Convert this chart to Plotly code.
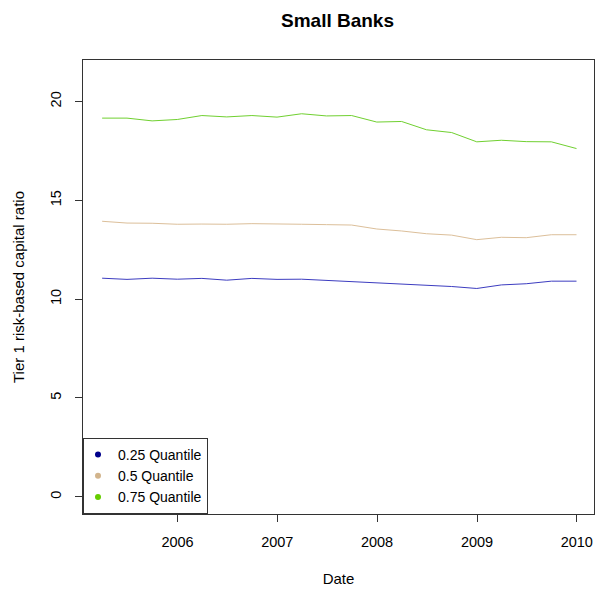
import plotly.graph_objects as go

dates = ["2005-03-31", "2005-06-30", "2005-09-30", "2005-12-31",
         "2006-03-31", "2006-06-30", "2006-09-30", "2006-12-31",
         "2007-03-31", "2007-06-30", "2007-09-30", "2007-12-31",
         "2008-03-31", "2008-06-30", "2008-09-30", "2008-12-31",
         "2009-03-31", "2009-06-30", "2009-09-30", "2009-12-31"]

q25 = [11.06, 11.00, 11.06, 11.01, 11.05, 10.96, 11.05, 11.00, 11.01, 10.95,
       10.88, 10.81, 10.76, 10.67, 10.64, 10.54, 10.72, 10.78, 10.91, 10.91]
q50 = [13.94, 13.85, 13.84, 13.79, 13.80, 13.79, 13.82, 13.79, 13.79, 13.77,
       13.75, 13.55, 13.45, 13.31, 13.24, 13.01, 13.13, 13.11, 13.26, 13.26]
q75 = [19.16, 19.16, 19.02, 19.09, 19.29, 19.22, 19.29, 19.21, 19.38, 19.27,
       19.29, 18.96, 18.99, 18.57, 18.43, 17.96, 18.04, 17.97, 17.96, 17.62]

names = ["0.25 Quantile", "0.5 Quantile", "0.75 Quantile"]
line_colors = ["#3c3cc0", "#dcbf9a", "#70d030"]
dot_colors = ["#00008B", "#D2B48C", "#66CD00"]
xticks = ["2006-01-01", "2007-01-01", "2008-01-01", "2009-01-01", "2010-01-01"]
xticklabels = ["2006", "2007", "2008", "2009", "2010"]
yticks = [0, 5, 10, 15, 20]

FONT = "Liberation Sans, Arial, sans-serif"

fig = go.Figure()
for series, name, lc in zip([q25, q50, q75], names, line_colors):
    fig.add_trace(go.Scatter(x=dates, y=series, mode="lines", name=name,
                             line=dict(color=lc, width=1), showlegend=False,
                             hoverinfo="skip"))
for name, dc in zip(names, dot_colors):
    fig.add_trace(go.Scatter(x=[None], y=[None], mode="markers", name=name,
                             marker=dict(color=dc, size=6), showlegend=True))

fig.update_layout(
    width=602, height=589,
    margin=dict(l=83, r=8, t=60, b=75),
    paper_bgcolor="white", plot_bgcolor="white",
    font=dict(family=FONT, size=15, color="black"),
    title=dict(text="<b>Small Banks</b>", x=337.5/602, xanchor="center",
               y=1 - 20/589, yanchor="middle", font=dict(size=19, family=FONT)),
    showlegend=True,
    legend=dict(x=0, y=0, xanchor="left", yanchor="bottom",
                bordercolor="#333333", borderwidth=1, bgcolor="white",
                font=dict(size=14, family=FONT),
                tracegroupgap=0, itemwidth=30, indentation=-6),
    xaxis=dict(type="date", range=["2005-01-20", "2010-03-05"],
               tickvals=xticks, ticktext=xticklabels,
               showgrid=False, zeroline=False, automargin=False,
               showline=True, linecolor="#333333", linewidth=1, mirror=True,
               ticks="outside", ticklen=7, tickcolor="#333333",
               ticklabelstandoff=8,
               tickfont=dict(size=14.5), title=dict(text="Date", standoff=24,
                                                    font=dict(size=15))),
    yaxis=dict(range=[-0.87, 22.1], tickvals=yticks, ticktext=[str(v) for v in yticks],
               tickangle=-90,
               showgrid=False, zeroline=False, automargin=False,
               showline=True, linecolor="#333333", linewidth=1, mirror=True,
               ticks="outside", ticklen=7, tickcolor="#333333",
               ticklabelstandoff=8,
               tickfont=dict(size=14.5),
               title=dict(text="Tier 1 risk-based capital ratio", standoff=19,
                          font=dict(size=15))),
)

fig.write_html("out.html")
